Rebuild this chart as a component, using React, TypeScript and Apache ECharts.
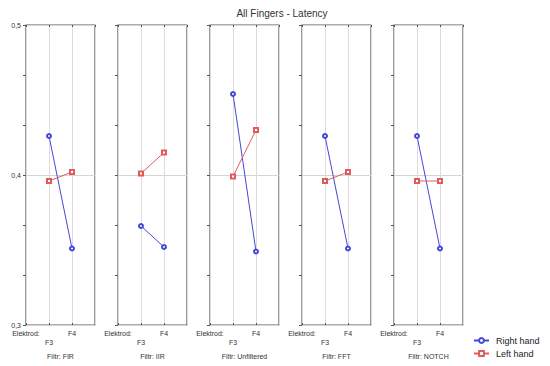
import React, { useEffect, useRef } from "react";
import * as echarts from "echarts";

const filters = ["FIR", "IIR", "Unfiltered", "FFT", "NOTCH"];
const electrodes = ["F3", "F4"];
const rightHand = [
  [0.426, 0.351],
  [0.366, 0.352],
  [0.454, 0.349],
  [0.426, 0.351],
  [0.426, 0.351],
];
const leftHand = [
  [0.396, 0.402],
  [0.401, 0.415],
  [0.399, 0.43],
  [0.396, 0.402],
  [0.396, 0.396],
];
const yLabels: Record<string, string> = { "0.3": "0,3", "0.4": "0,4", "0.5": "0,5" };

const BLUE = "#4646d6";
const RED = "#e05c5c";
const FONT = "'Liberation Sans', Arial, sans-serif";

export default function App() {
  const ref = useRef<HTMLDivElement>(null);
  useEffect(() => {
    if (!ref.current) return;
    const chart = echarts.init(ref.current, null, { renderer: "svg" });
    const grid: any[] = [];
    const xAxis: any[] = [];
    const yAxis: any[] = [];
    const series: any[] = [];
    filters.forEach((f, i) => {
      grid.push({
        left: 26 + 92 * i,
        top: 25,
        width: 69,
        height: 300,
        show: true,
        borderColor: "#5a5a5a",
        borderWidth: 1.2,
        backgroundColor: "transparent",
      });
      xAxis.push({
        type: "value",
        gridIndex: i,
        min: 0,
        max: 3,
        interval: 1,
        position: "bottom",
        name: "Filtr: " + f,
        nameLocation: "middle",
        nameGap: 28,
        nameTextStyle: { fontSize: 7, color: "#333", fontFamily: FONT },
        axisLine: { show: false },
        axisTick: { show: true, inside: true, length: 2, lineStyle: { color: "#555" } },
        splitLine: { show: true, lineStyle: { color: "#dcdcdc", width: 1 } },
        axisLabel: {
          fontSize: 7,
          color: "#333",
          fontFamily: FONT,
          margin: 4,
          lineHeight: 9,
          showMaxLabel: false,
          formatter: (v: number) => {
            if (v === 0) return "Elektrod:";
            if (v === 1) return "\n" + electrodes[0];
            if (v === 2) return electrodes[1];
            return "";
          },
        },
      });
      xAxis.push({
        type: "value",
        gridIndex: i,
        min: 0,
        max: 3,
        interval: 1,
        position: "top",
        axisLine: { show: false },
        axisTick: { show: true, inside: true, length: 2, lineStyle: { color: "#555" } },
        splitLine: { show: false },
        axisLabel: { show: false },
      });
      yAxis.push({
        type: "value",
        gridIndex: i,
        min: 0.3,
        max: 0.5,
        interval: 0.1,
        position: "left",
        axisLine: { show: false },
        axisTick: { show: false },
        splitLine: { show: true, lineStyle: { color: "#d4d4d4", width: 1 } },
        axisLabel: {
          show: i === 0,
          fontSize: 7,
          color: "#333",
          fontFamily: FONT,
          margin: 5,
          formatter: (v: number) => yLabels[v.toFixed(1)] ?? "",
        },
      });
      yAxis.push({
        type: "value",
        gridIndex: i,
        min: 0.3,
        max: 0.5,
        interval: 1 / 30,
        position: "right",
        axisLine: { show: false },
        axisTick: { show: true, inside: true, length: 3, lineStyle: { color: "#555" } },
        splitLine: { show: false },
        axisLabel: { show: false },
      });
      series.push({
        type: "line",
        name: "Right hand",
        xAxisIndex: 2 * i,
        yAxisIndex: 2 * i,
        data: rightHand[i].map((v, k) => [k + 1, v]),
        symbol: "emptyCircle",
        symbolSize: 4,
        lineStyle: { color: BLUE, width: 1 },
        itemStyle: { color: BLUE, borderWidth: 1 },
        z: 3,
      });
      series.push({
        type: "line",
        name: "Left hand",
        xAxisIndex: 2 * i,
        yAxisIndex: 2 * i,
        data: leftHand[i].map((v, k) => [k + 1, v]),
        symbol: "emptyRect",
        symbolSize: 4,
        lineStyle: { color: RED, width: 1 },
        itemStyle: { color: RED, borderWidth: 1 },
        z: 3,
      });
    });
    chart.setOption({
      animation: false,
      backgroundColor: "#fff",
      title: {
        text: "All Fingers - Latency",
        left: 277,
        textAlign: "center",
        top: 3,
        textStyle: { fontSize: 10, fontWeight: "normal", color: "#333", fontFamily: FONT },
      },
      legend: {
        orient: "vertical",
        left: 473,
        top: 336,
        padding: 0,
        itemWidth: 15,
        itemHeight: 6,
        itemGap: 4,
        textStyle: { fontSize: 9, color: "#222", fontFamily: FONT, padding: [0, 0, 0, 2] },
        data: ["Right hand", "Left hand"],
      },
      grid,
      xAxis,
      yAxis,
      series,
    });
    return () => chart.dispose();
  }, []);
  return <div ref={ref} style={{ width: 550, height: 366, position: "absolute", left: 0, top: 0 }} />;
}
